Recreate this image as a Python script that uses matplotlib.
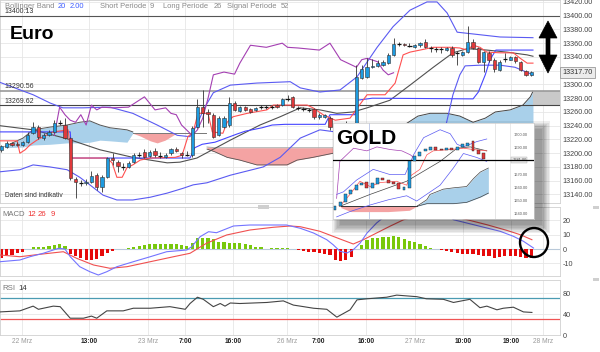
import matplotlib
matplotlib.use("Agg")
import matplotlib.pyplot as plt
from matplotlib.patches import Rectangle, Polygon, Ellipse

plt.rcParams['font.family'] = ['Liberation Sans', 'DejaVu Sans']

# ---------------- data (Euro, hourly candles) ----------------
opens = [13205,13209,13215,13214,13212,13216,13229,13238,13222,13226,
         13231,13244,13241,13222,13162,13157,13156,13158,13168,13151,
         13165,13193,13187,13181,13180,13187,13197,13202,13196,13203,
         13197,13194,13200,13206,13200,13197,13197,13238,13267,13260,
         13256,13226,13238,13241,13273,13261,13267,13264,13263,13267,
         13266,13267,13270,13270,13279,13282,13266,13265,13263,13264,
         13253,13253,13251,13238,13232,13237,13240,13241,13309,13311,
         13325,13327,13328,13331,13343,13358,13359,13357,13354,13357,
         13362,13354,13352,13352,13350,13353,13346,13343,13347,13362,
         13353,13333,13346,13336,13321,13336,13336,13340,13333,13320,
         13314]
closes = [13210,13215,13212,13212,13216,13226,13238,13224,13226,13231,
          13244,13245,13222,13164,13158,13156,13158,13167,13151,13165,
          13193,13190,13181,13180,13186,13197,13198,13194,13202,13197,
          13196,13197,13206,13203,13197,13198,13237,13267,13258,13257,
          13224,13251,13251,13273,13263,13267,13263,13260,13266,13266,
          13267,13268,13267,13279,13280,13267,13265,13264,13262,13253,
          13255,13255,13238,13232,13237,13240,13241,13311,13322,13325,
          13327,13331,13333,13343,13359,13359,13357,13356,13357,13360,
          13354,13353,13351,13351,13353,13343,13345,13347,13362,13353,
          13333,13347,13336,13322,13333,13337,13340,13334,13321,13314,
          13318]
highs = [13212,13218,13216,13216,13218,13231,13245,13241,13229,13234,
         13248,13248,13251,13224,13165,13161,13162,13174,13171,13168,
         13194,13200,13190,13186,13189,13200,13202,13206,13205,13208,
         13202,13200,13208,13209,13202,13203,13240,13279,13292,13264,
         13258,13254,13254,13282,13276,13269,13269,13266,13267,13270,
         13270,13270,13272,13280,13285,13283,13269,13267,13266,13266,
         13258,13257,13254,13241,13238,13247,13244,13328,13328,13338,
         13337,13335,13335,13346,13368,13362,13360,13360,13359,13362,
         13366,13356,13354,13354,13354,13356,13349,13349,13385,13366,
         13354,13349,13349,13338,13336,13346,13341,13341,13334,13321,
         13319]
lows = [13202,13208,13210,13210,13210,13215,13228,13221,13219,13225,
        13229,13241,13221,13161,13135,13152,13154,13157,13146,13143,
        13164,13183,13173,13176,13178,13186,13194,13193,13194,13194,
        13193,13193,13197,13202,13193,13196,13194,13237,13238,13244,
        13222,13225,13237,13238,13261,13260,13261,13258,13261,13264,
        13264,13264,13266,13269,13276,13266,13263,13261,13260,13250,
        13250,13251,13234,13228,13229,13234,13237,13238,13308,13309,
        13324,13325,13327,13330,13341,13356,13356,13354,13353,13354,
        13353,13347,13347,13346,13349,13340,13328,13341,13346,13352,
        13331,13318,13333,13318,13320,13333,13335,13331,13320,13312,
        13312]

# Bollinger bands (20, 2.00)
bb_up_x = [-0.25,6.0,9.2,11.6,15.4,20.5,24.8,29.4,33.2,35.6,36.9,38.1,40.0,43.2,48.2,54.5,
           56.4,60.1,63.9,67.1,70.9,73.9,77.1,80.3,82.2,84.1,86.0,94.1,100.3]
bb_up_y = [13303,13285,13273,13266,13266,13267,13258,13241,13226,13224,13241,13263,13288,13299,13302,13304,
           13295,13289,13292,13311,13354,13384,13408,13420,13420,13404,13376,13369,13368]
bb_lo_x = [-0.25,3.5,6.0,9.2,12.4,14.8,16.7,19.2,21.8,24.8,28.1,31.3,34.3,36.2,38.8,43.2,49.4,52.6,
           56.4,60.1,63.0,67.7,73.3,79.0,82.8,84.1,85.2,86.5,87.5,90.3,94.1,96.9,100.3]
bb_lo_y = [13173,13176,13183,13180,13176,13165,13154,13139,13132,13132,13136,13142,13149,13154,13157,13168,13180,13194,
           13222,13234,13231,13190,13146,13146,13205,13248,13285,13314,13327,13328,13328,13325,13314]
bb_mid_x = [-0.25,6.0,12.4,18.6,24.8,31.3,33.7,36.9,43.2,48.8,52.6,56.4,60.1,63.3,66.4,69.0,73.3,
            77.1,81.5,85.2,87.9,91.6,95.4,99.2,100.3]
bb_mid_y = [13240,13234,13221,13205,13194,13186,13187,13193,13219,13241,13253,13266,13263,13258,13260,13266,13277,
            13299,13325,13346,13352,13350,13347,13343,13341]

# Ichimoku (9 / 26 / 52)
tenkan_x = [-0.25,3.0,3.5,4.5,5.4,6.7,7.9,9.8,12.6,13.2,19.9,20.9,21.8,22.8,23.7,24.8,26.2,28.1,32.8,34.1,
            35.2,36.2,37.1,39.0,39.8,41.8,42.6,43.7,46.4,50.1,51.3,54.9,57.7,58.8,60.7,63.0,65.8,66.9,
            69.0,72.4,74.3,75.8,77.1,79.0,81.5,84.7,86.5,87.9,89.0,90.3,91.6,94.1,96.6,97.9,99.2,100.3]
tenkan_y = [13218,13218,13200,13205,13212,13219,13224,13231,13234,13193,13193,13186,13165,13165,13179,13183,13190,13193,13194,13197,
            13224,13231,13258,13258,13231,13229,13245,13253,13258,13263,13270,13270,13270,13266,13256,13248,13251,13263,
            13285,13285,13302,13343,13347,13350,13354,13354,13353,13350,13357,13354,13347,13346,13346,13338,13331,13331]
kijun_x = [-0.25,13.0,13.3,35.6,36.5,37.9,40.3,44.5,46.0,49.2,51.1,53.5,61.1,62.0,66.7,67.1,70.0,89.0,
           90.0,91.3,92.2,93.3,100.3]
kijun_y = [13231,13231,13193,13193,13208,13213,13216,13228,13232,13237,13241,13242,13242,13256,13256,13277,13280,13279,
           13289,13314,13336,13350,13350]
chikou_x = [10,11,12,13,14,15,16,17,18,19,21,24,26,27,29,31,32,33,34,36,37,38,39,40,42,44,45,47,50,53,54,56,
            60,62,64,67,68,69,71,72,73,74]
chikou_y = [13226,13267,13256,13248,13245,13256,13241,13270,13263,13267,13266,13267,13277,13282,13263,13266,13258,
            13256,13241,13226,13234,13251,13280,13314,13318,13315,13331,13357,13354,13360,13354,13353,
            13350,13360,13336,13325,13336,13338,13333,13321,13314,13317]
cloud1_x = [0.7,4.1,6.0,9.2,12.4,14.8,16.7,18.6,20.5,23.7,24.8]
cloud1_a = [13210,13222,13234,13238,13241,13245,13247,13241,13237,13234,13231]
cloud1_b = [13208,13209,13212,13213,13215,13215,13216,13219,13218,13216,13229]
cloud2_x = [24.8,26.2,28.1,29.4,30.9,32.4,33.0,38.6]
cloud2_a = [13229,13225,13218,13215,13219,13226,13229,13229]
cloud2_b = [13229,13229,13229,13229,13229,13229,13229,13229]
cloud3_x = [38.8,40.3,42.6,45.0,48.2,53.9,55.8,58.8,62.6,64.8]
cloud3_a = [13206,13202,13194,13190,13183,13183,13190,13194,13200,13205]
cloud3_b = [13209,13208,13208,13208,13208,13208,13208,13208,13208,13208]
cloud4_x = [76.2,78.6,80.9,84.1,86.5,89.0,91.3,93.2,96.0,98.4,99.8,100.3]
cloud4_a = [13242,13254,13258,13258,13254,13245,13251,13260,13263,13270,13282,13290]
cloud4_b = [13225,13215,13210,13205,13200,13200,13200,13200,13200,13200,13200,13200]

levels = [13400.13, 13290.56, 13269.62]
last_price = 13317.70

# MACD (12, 26, 9)
macd_hist = [-6.5,-4.5,-4.0,-3.0,-2.0,0.0,1.5,1.5,1.6,2.0,2.6,3.4,2.4,-3.5,-5.0,-6.5,-7.5,-7.7,-7.0,-5.0,
             -3.0,-1.5,0.0,0.3,0.5,1.6,2.2,2.8,3.3,3.5,3.4,3.3,3.3,3.2,2.8,2.3,4.5,7.5,8.0,8.0,
             6.8,5.2,5.0,4.4,4.4,4.0,3.5,2.8,1.6,1.2,0.0,1.0,1.0,1.0,1.0,0.0,-1.0,-1.6,-2.0,-2.3,
             -2.8,-3.5,-4.0,-7.5,-8.6,-7.5,-5.6,0.0,3.0,6.5,7.7,7.7,8.2,8.2,8.9,8.2,7.0,5.8,4.7,3.5,
             1.9,0.7,0.0,-1.0,-1.6,-2.3,-2.8,-3.3,-3.3,-3.5,-4.0,-4.7,-5.1,-6.3,-5.8,-5.1,-5.1,-5.1,-5.6,-6.3,
             -6.3]
macd_x = [-0.25,3.5,5.4,7.9,10.8,12.0,13.0,14.8,16.7,18.3,19.9,21.8,24.9,28.1,31.2,35.0,35.9,37.5,39.1,40.6,
          43.8,46.9,50.1,53.8,56.4,58.9,61.4,62.6,63.9,65.2,66.4,67.7,69.0,70.8,72.7,76.0,80.0,84.0,
          85.3,87.8,91.6,94.1,96.6,98.5,100.4]
macd_y = [-8.9,-7.7,-5.4,-3.0,0.5,0.0,-5.4,-12.4,-15.9,-18.2,-15.9,-12.4,-8.9,-5.4,-1.9,-0.7,1.6,8.6,12.1,11.4,
          16.1,16.8,16.8,16.8,14.5,11.2,6.5,3.0,-1.6,-2.8,-0.5,4.2,11.2,18.2,24.0,27.0,27.5,24.5,
          20.5,18.2,14.7,12.4,8.9,5.4,0.7]
signal_x = [-0.25,3.5,7.3,11.7,14.2,17.4,20.5,23.7,28.1,32.5,35.6,38.7,42.5,46.9,51.3,54.5,56.4,
            60.1,63.9,66.4,68.3,70.8,73.3,75.9,79.0,83.0,86.6,91.6,95.4,97.9,100.1]
signal_y = [-4.2,-5.4,-3.7,-1.9,-6.5,-11.2,-13.5,-12.4,-8.9,-5.4,-3.0,4.0,9.8,13.3,15.2,16.1,15.6,
            12.4,7.0,3.5,6.5,11.2,15.9,20.5,23.5,24.5,21.7,17.0,13.0,10.0,6.5]

# RSI (14)
rsi_x = [-0.25,3.5,6.0,7.0,9.8,11.1,13.0,15.5,17.0,18.0,19.9,23.0,24.9,28.1,31.8,34.7,35.6,37.0,38.1,40.0,
         41.3,42.2,43.2,45.0,50.1,53.2,55.1,56.4,58.9,61.4,63.3,65.8,67.1,69.0,72.7,74.6,78.4,80.2,
         83.4,85.3,88.4,90.3,91.6,93.5,94.7,96.6,98.5,100.1]
rsi_y = [44,46,55,49,55,54,32,32,36,32,46,46,51,51,54,49,60,72,68,54,
         60,55,61,60,62,65,57,55,51,49,34,48,67,69,72,76,73,69,
         68,62,68,52,55,48,51,53,44,43]

time_pos = [3.9, 16.5, 27.7, 34.7, 43.7, 53.9, 59.8, 68.8, 78.1, 87.1, 96.2, 102.2]
time_labels = ["22 Mrz", "13:00", "23 Mrz", "7:00", "16:00", "26 Mrz", "7:00", "16:00",
               "27 Mrz", "10:00", "19:00", "28 Mrz"]
price_ticks = [13140, 13160, 13180, 13200, 13220, 13240, 13260, 13280,
               13300, 13320, 13340, 13360, 13380, 13400, 13420]

# GOLD inset (mini chart)
mini_open = [1643,1646,1649,1655,1658,1662,1664,1660,1663,1667,1666,1664,1663,1658,1660,
             1680,1684,1688,1689,1691,1689,1689,1690,1689,1691,1692,1695,1688,1686]
mini_close = [1646,1649,1655,1658,1662,1663,1660,1663,1667,1666,1664,1663,1659,1660,1680,
              1684,1687,1689,1691,1689,1689,1690,1689,1691,1693,1694,1688,1686,1682]
mini_purple_x = [0.3,0.9,3.5,6.0,7.9,10.4,12.6,14.2,14.8]
mini_purple_y = [1652,1680,1690,1688,1691,1689,1688,1685,1683]
mini_red_x = [0.9,2.8,4.7,6.6,8.5,11.6,13.5,14.2,16.0,17.3,18.5,21.7,24.2,26.1,28.6]
mini_red_y = [1646,1655,1665,1661,1664,1665,1662,1669,1674,1685,1688,1689,1690,1689,1688]
mini_bbu_x = [0.3,1.6,4.1,7.2,10.4,13.2,14.8,16.7,19.8,21.7,23.0,24.2,26.7,28.6]
mini_bbu_y = [1655,1657,1666,1674,1670,1670,1685,1698,1704,1701,1693,1691,1695,1697]
mini_bbl_x = [0.3,2.8,6.6,10.1,13.5,15.4,19.8,22.3,24.2,26.7,28.6]
mini_bbl_y = [1638,1642,1647,1651,1654,1650,1662,1675,1686,1683,1680]
mini_mid_x = [0.9,6.6,13.5,19.8,23.0,25.5,28.6]
mini_mid_y = [1646,1655,1665,1680,1690,1691,1688]
mini_rc_x = [1.1,3.0,6.0,10.0,14.0,15.4]
mini_rc_a = [1645,1642,1642,1642,1643,1646]
mini_rc_b = [1646,1646,1646,1646,1646,1646]
mini_bc_x = [15.4,17.3,17.9,20.4,22.3,24.8,26.1,27.4,28.9]
mini_bc_a = [1646,1651,1655,1659,1660,1661,1667,1672,1675]
mini_bc_b = [1646,1648,1648,1648,1648,1649,1651,1653,1656]
mini_level = 1681
mini_ticks = [1700, 1690, 1670, 1660, 1650, 1640]

# ---------------- drawing ----------------
W, H = 600, 352
fig = plt.figure(figsize=(6, 3.52), dpi=100)


def fx(px):
    return px / W


def fy(py):
    return 1 - py / H


XL = (-0.25, 105.4)
GRID = '#e6e6e6'
BORDER = '#d0d0d0'
BLUE_UP = '#1d9be0'
RED_DN = '#e0393b'


def style(ax):
    for s in ax.spines.values():
        s.set_color(BORDER)
        s.set_linewidth(0.6)
    ax.set_xlim(*XL)
    ax.yaxis.tick_right()
    ax.tick_params(axis='both', length=0, labelsize=5.2, labelcolor='#444', pad=2)
    ax.set_xticks(time_pos)
    ax.grid(True, color=GRID, lw=0.6)
    ax.set_axisbelow(True)


# main panel
ax = fig.add_axes([0, fy(203), fx(560), 203 / H])
style(ax)
ax.set_ylim(13127.6, 13422.8)
ax.set_yticks(price_ticks)
ax.set_yticklabels([f"{v:.2f}" for v in price_ticks])
ax.set_xticklabels([])

for cx, ca, cb, col in [(cloud1_x, cloud1_a, cloud1_b, '#a9d0ea'),
                        (cloud2_x, cloud2_a, cloud2_b, '#f4a3a3'),
                        (cloud3_x, cloud3_a, cloud3_b, '#f4a3a3'),
                        (cloud4_x, cloud4_a, cloud4_b, '#a9d0ea')]:
    ax.fill_between(cx, ca, cb, color=col, lw=0, zorder=1)
ax.plot(cloud1_x, cloud1_a, color='#555', lw=0.7, zorder=2)
ax.plot(cloud2_x, cloud2_b, color='#777', lw=0.7, zorder=2)
ax.plot(cloud3_x, cloud3_b, color='#aaa', lw=0.7, zorder=2)
ax.plot(cloud3_x, cloud3_a, color='#555', lw=0.6, zorder=2)
ax.plot(cloud4_x, cloud4_a, color='#444', lw=0.7, zorder=2)

ax.add_patch(Rectangle((100.3, levels[2]), XL[1] - 100.3, levels[1] - levels[2],
                       fc='#c9c9c9', ec='none', zorder=2))
ax.axhline(levels[0], color='#555', lw=0.8, zorder=3)
ax.axhline(levels[1], color='#999', lw=1.2, zorder=3)
ax.axhline(levels[2], color='#444', lw=0.8, zorder=3)

ax.plot(bb_up_x, bb_up_y, color='#5a5af2', lw=0.8, zorder=3)
ax.plot(bb_lo_x, bb_lo_y, color='#5a5af2', lw=0.8, zorder=3)
ax.plot(bb_mid_x, bb_mid_y, color='#505050', lw=0.8, zorder=3)
ax.plot(kijun_x, kijun_y, color='#4646ff', lw=0.8, zorder=3)
ax.plot(tenkan_x, tenkan_y, color='#ff5050', lw=0.8, zorder=3)
ax.plot(chikou_x, chikou_y, color='#a43fb2', lw=0.8, zorder=3)

for i, (o, c, h, l) in enumerate(zip(opens, closes, highs, lows)):
    ax.vlines(i, l, h, color='#333', lw=0.6, zorder=4)
    if abs(c - o) < 1.2:
        ax.hlines((o + c) / 2, i - 0.4, i + 0.4, color='#111', lw=0.9, zorder=5)
    else:
        col = BLUE_UP if c > o else RED_DN
        ax.bar(i, abs(c - o), bottom=min(o, c), width=0.62, color=col,
               edgecolor='#333', linewidth=0.4, zorder=5)

# MACD panel
ax2 = fig.add_axes([0, fy(276), fx(560), 69 / H])
style(ax2)
ax2.set_ylim(-18.9, 29.4)
ax2.set_yticks([-10, 0, 10, 20])
ax2.set_yticklabels(['-10', '0', '10', '20'])
ax2.set_xticklabels([])
ax2.axhline(0, color='#b9c9d9', lw=0.8, zorder=1)
hist_cols = ['#78c80c' if v > 0 else '#e60a0a' for v in macd_hist]
ax2.bar(range(len(macd_hist)), macd_hist, width=0.6, color=hist_cols, lw=0, zorder=2)
ax2.plot(signal_x, signal_y, color='#f05050', lw=0.8, zorder=3)
ax2.plot(macd_x, macd_y, color='#7474ff', lw=0.8, zorder=3)

# RSI panel
ax3 = fig.add_axes([0, fy(335), fx(560), 55 / H])
style(ax3)
ax3.set_ylim(0, 104.8)
ax3.set_yticks([0, 40, 80])
ax3.set_yticklabels(['0', '40', '80'])
ax3.axhline(70, color='#4a9bb2', lw=0.9, zorder=2)
ax3.axhline(30, color='#f05454', lw=0.9, zorder=2)
ax3.plot(rsi_x, rsi_y, color='#444', lw=0.8, zorder=3)
ax3.set_xticklabels(time_labels)
ax3.tick_params(axis='x', labelsize=4.8, pad=2.5)
for lbl, t in zip(ax3.get_xticklabels(), time_labels):
    if 'Mrz' in t:
        lbl.set_color('#9a9a9a')
    else:
        lbl.set_color('#222')
        lbl.set_fontweight('bold')

# ---------------- texts & decorations ----------------
hdr = [(5, 'Bollinger Band', '#888'), (58, '20', '#3b5bff'), (70, '2.00', '#3b5bff'),
       (100, 'Short Periode', '#888'), (150, '9', '#888'), (163, 'Long Periode', '#888'),
       (214, '26', '#888'), (227, 'Signal Periode', '#888'), (281, '52', '#888')]
for x, t, c in hdr:
    fig.text(fx(x), fy(7), t, color=c, fontsize=5.4, va='center', ha='left')
fig.text(fx(4), fy(11.5), f"{levels[0]:.2f}", color='#333', fontsize=5, va='center')
fig.text(fx(4), fy(87), f"{levels[1]:.2f}", color='#333', fontsize=5, va='center')
fig.text(fx(4), fy(101.5), f"{levels[2]:.2f}", color='#333', fontsize=5, va='center')
fig.text(fx(10), fy(39), 'Euro', fontsize=14, fontweight='bold', va='baseline', color='#000')
fig.text(fx(5), fy(196), 'Daten sind indikativ', fontsize=4.8, color='#333', va='center')

for x, t, c in [(2, 'MACD', '#777'), (27, '12', '#e33'), (38, '26', '#e33'), (51, '9', '#e33')]:
    fig.text(fx(x), fy(214), t, color=c, fontsize=5.6, va='center')
for x, t, c in [(2, 'RSI', '#777'), (18, '14', '#333')]:
    fig.text(fx(x), fy(288), t, color=c, fontsize=5.6, va='center')

fig.text(fx(562.5), fy(72.5), f"{last_price:.2f}", fontsize=5.2, color='#333', va='center',
         bbox=dict(boxstyle='square,pad=0.3', fc='#ececec', ec='#999', lw=0.6))

# panel handles
for (x0, y0, w, h) in [(258, 204.5, 11, 4), (593, 206, 6, 3), (593, 277.5, 6, 3)]:
    fig.add_artist(Rectangle((fx(x0), fy(y0 + h)), w / W, h / H, transform=fig.transFigure,
                             fc='#cfcfcf', ec='none', zorder=4))

# double arrow
arrow_px = [(548, 21), (557, 38), (550, 38), (550, 55), (557, 55), (548, 73),
            (539, 55), (546, 55), (546, 38), (539, 38)]
fig.add_artist(Polygon([(fx(x), fy(y)) for x, y in arrow_px], closed=True,
                       transform=fig.transFigure, fc='black', ec='black', lw=0.5, zorder=5))

# inset shadow
for k in range(7):
    e = k * 1.3
    fig.add_artist(Rectangle((fx(340 - e), fy(225 + e)), (202 + 2 * e) / W, (96 + 2 * e) / H,
                             transform=fig.transFigure, fc='black', ec='none',
                             alpha=0.065, zorder=6))

# GOLD inset
axi = fig.add_axes([fx(333), fy(219), (534 - 333) / W, 96 / H], zorder=10)
axi.set_facecolor('white')
for s in axi.spines.values():
    s.set_color('#cccccc')
    s.set_linewidth(0.5)
axi.set_xticks([])
axi.set_yticks([])
axi.set_xlim(-0.38, 37.5)
axi.set_ylim(1636.4, 1709.1)
for gx, gc in [(6.4, '#b8c4e8'), (15.1, '#e2e2e2'), (30.2, '#e2e2e2')]:
    axi.axvline(gx, color=gc, lw=0.6, zorder=0)
axi.axvline(33.0, color='#e6e6e6', lw=0.6, zorder=0)
axi.fill_between(mini_rc_x, mini_rc_a, mini_rc_b, color='#f4a3a3', lw=0, zorder=1)
axi.fill_between(mini_bc_x, mini_bc_a, mini_bc_b, color='#a9d0ea', lw=0, zorder=1)
axi.plot([mini_rc_x[0], mini_bc_x[0]], [1646, 1646], color='#333', lw=0.7, zorder=2)
axi.plot(mini_bc_x, mini_bc_a, color='#444', lw=0.5, zorder=2)
axi.plot(mini_bc_x, mini_bc_b, color='#444', lw=0.5, zorder=2)
axi.plot(mini_bbu_x, mini_bbu_y, color='#5a5af2', lw=0.5, zorder=3)
axi.plot(mini_bbl_x, mini_bbl_y, color='#5a5af2', lw=0.5, zorder=3)
axi.plot(mini_mid_x, mini_mid_y, color='#444', lw=0.5, zorder=3)
axi.plot(mini_red_x, mini_red_y, color='#ff5050', lw=0.5, zorder=3)
axi.plot(mini_purple_x, mini_purple_y, color='#a43fb2', lw=0.5, zorder=3)
axi.axhline(mini_level, color='black', lw=0.9, zorder=4)
for i, (o, c) in enumerate(zip(mini_open, mini_close)):
    col = BLUE_UP if c > o else RED_DN
    axi.bar(i, abs(c - o) + 0.3, bottom=min(o, c), width=0.55, color=col,
            edgecolor='#222', linewidth=0.3, zorder=5)
for v in mini_ticks:
    axi.text(33.6, v, f"{v:.2f}", fontsize=2.8, color='#555', va='center', ha='left')
axi.text(33.4, mini_level, f"{mini_level:.2f}", fontsize=2.8, color='#555', va='center', ha='left',
         bbox=dict(boxstyle='square,pad=0.2', fc='#e8e8e8', ec='#aaa', lw=0.3))
axi.text(0.015, 0.781, 'GOLD', transform=axi.transAxes, fontsize=15, fontweight='bold',
         va='baseline', ha='left', color='black', zorder=8)

# circle in MACD
fig.add_artist(Ellipse((fx(534), fy(242.5)), 28 / W, 29 / H, transform=fig.transFigure,
                       fill=False, ec='black', lw=1.7, zorder=12))

fig.savefig('out.png', dpi=100)
